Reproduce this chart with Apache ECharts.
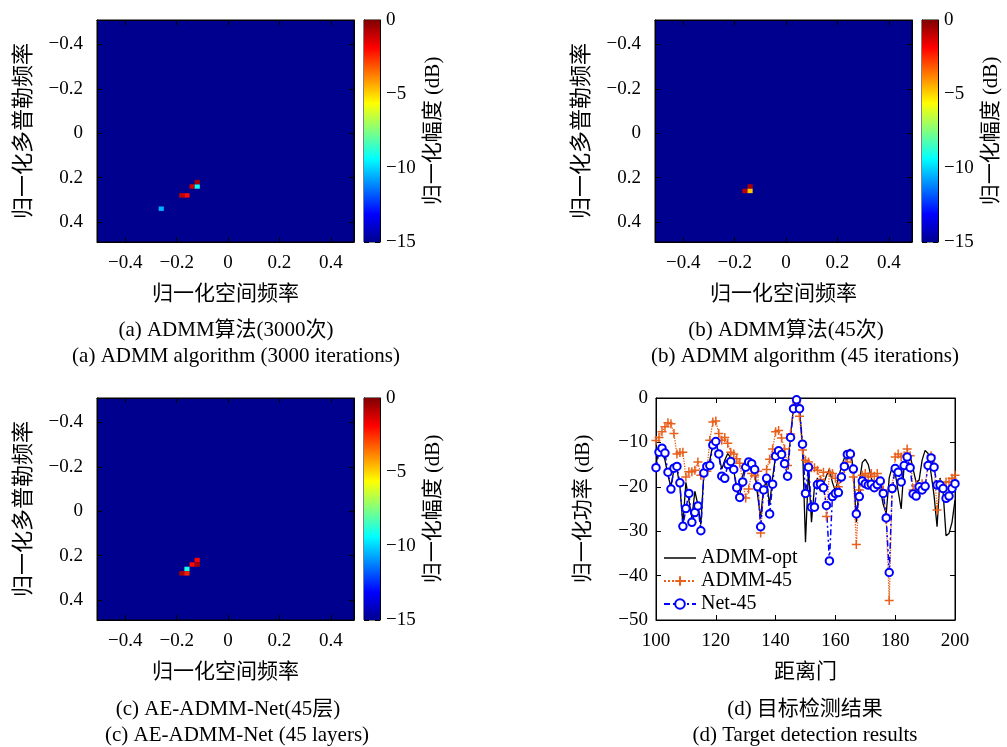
<!DOCTYPE html>
<html>
<head>
<meta charset="utf-8">
<script src="https://cdn.jsdelivr.net/npm/echarts@6/dist/echarts.min.js"></script>
<style>
  html, body { margin: 0; background: #fff; }
  #main { width: 1007px; height: 747px; }
</style>
</head>
<body>
<div id="main"></div>
<script>
// dati
var freqTicks = [-0.4, -0.2, 0, 0.2, 0.4];
var freqRange = [-0.51, 0.49];
var cellHalf = 0.01;
var dbRange = [-15, 0];

// celle non di fondo: [freq spaziale, freq doppler, dB]
var cellsA = [[-0.26, 0.34, -10.5], [-0.18, 0.28, -1.0], [-0.16, 0.28, -2.0],
              [-0.14, 0.24, -1.2], [-0.12, 0.24, -9.2], [-0.12, 0.22, -0.5]];
var cellsB = [[-0.14, 0.24, -0.7], [-0.16, 0.26, -0.9], [-0.14, 0.26, -4.8]];
var cellsC = [[-0.12, 0.22, -1.9], [-0.12, 0.24, -0.6], [-0.14, 0.24, -2.0],
              [-0.16, 0.26, -9.0], [-0.18, 0.28, -0.6], [-0.16, 0.28, -2.3]];

// pannello (d): gate 100..200
var gateStart = 100;
var admmOpt = [-15, -11.5, -12, -14, -17.5, -20, -16, -16, -20, -28.5,
  -19, -23, -27, -21, -24, -28.5, -17, -15.5, -14, -10.5,
  -9.5, -13, -16, -14, -12.5, -13.5, -16, -21, -22, -17.5,
  -15, -14.5, -15, -16.5, -22, -27, -20, -19, -24, -18,
  -13, -11.5, -12.5, -15, -16, -8.5, -2, -0.3, -2.5, -11,
  -32.5, -16, -28, -20, -18, -21, -19.5, -17.5, -16, -19,
  -21, -18, -15.5, -13.5, -12, -11.5, -16, -28, -19, -14.5,
  -13.8, -15, -18, -20, -19.5, -20.5, -24, -26, -18, -15.5,
  -17, -21, -25, -15, -13.5, -13, -16, -19, -18.5, -14,
  -11.8, -12.5, -17, -22, -29, -18, -21, -31, -30.5, -28, -23];
var admm45 = [-9.6, -8.9, -7.6, -6.5, -5.6, -5.8, -8, -12.6, -12.3, -12.2,
  -17.8, -16.6, -16.6, -16.3, -14.4, -17.4, -17.4, -16.5, -9.5, -5.4,
  -5.2, -8, -9.5, -8.9, -10.2, -12.2, -12.6, -13.7, -14.7, -19,
  -22.5, -20.5, -17, -17.5, -16.5, -30.4, -20.7, -16.1, -13.8, -11.5,
  -7.6, -7.3, -9, -11.5, -15.2, -8.1, -2.4, -1.1, -4.1, -11.7,
  -14, -14.4, -15.7, -15.7, -16.3, -18.4, -16.7, -26.7, -16.7, -17,
  -18.1, -20, -18, -15.9, -14.4, -13, -17.8, -33, -20.7, -17.4,
  -17, -17.8, -17, -17.6, -17, -19.1, -20.7, -27.4, -45.6, -20,
  -13.3, -12.6, -13.3, -13, -11.5, -13, -20.7, -19.6, -20, -19.3,
  -20, -14.8, -13, -15.2, -25.2, -19.3, -20, -18.9, -18.9, -18.1, -17.4];
var net45 = [-15.7, -12.2, -11.3, -12.4, -16.7, -20.5, -15.8, -15.4, -19.1, -28.9,
  -24.9, -21.5, -28, -25.8, -24.3, -29.9, -16.9, -15.4, -15.2, -10.6,
  -9.8, -12.6, -17.6, -18.1, -15, -14.3, -16.1, -20.2, -22.4, -18.9,
  -15.6, -14.4, -14.8, -16.1, -20, -29, -20.7, -18.1, -26.1, -19.4,
  -13.1, -11.9, -12.7, -14.8, -17.6, -8.9, -2.4, -0.4, -2.4, -10.4,
  -21.5, -15.6, -24.6, -24.6, -19.5, -19.4, -20.2, -24.2, -36.7, -22.2,
  -21.5, -21.3, -17.8, -15.4, -12.7, -12.6, -16, -26.1, -22.2, -18.7,
  -19.3, -19.6, -19.4, -20.2, -19.5, -18.7, -21.5, -27, -39.3, -20.4,
  -15.9, -16.7, -18.9, -15.2, -13.3, -15.7, -21.6, -22.1, -20, -20.7,
  -19.9, -15.2, -13.5, -15.6, -19.6, -19.6, -20.4, -22.6, -22.1, -20.4, -19.3];

var FONT = "'Liberation Serif', 'Noto Sans CJK SC', serif";
var jet = ['#00008f', '#0000ff', '#0080ff', '#00ffff', '#80ff80', '#ffff00', '#ff8000', '#ff0000', '#800000'];

function withPair(vals) {
  return vals.map(function (v, i) { return [gateStart + i, v]; });
}
function minusFmt(v) { return String(v).replace('-', '\u2212'); }

var grids = [], xAxes = [], yAxes = [], series = [], heatIdx = [];

function tick(custom) {
  var t = { show: true, inside: true, length: 5, lineStyle: { color: '#000' } };
  if (custom) t.customValues = custom;
  return t;
}
function lbl(show, margin, custom) {
  var l = { show: show, formatter: minusFmt, fontFamily: FONT, fontSize: 19, color: '#000', margin: margin };
  if (custom) l.customValues = custom;
  return l;
}
var nameStyle = { fontFamily: FONT, fontSize: 21, color: '#000' };
var axisLine = { show: true, onZero: false, lineStyle: { color: '#000', width: 1 } };

function renderCell(params, api) {
  var x = api.value(0), y = api.value(1);
  var a = api.coord([x - cellHalf, y - cellHalf]);
  var b = api.coord([x + cellHalf, y + cellHalf]);
  return {
    type: 'rect',
    shape: { x: Math.min(a[0], b[0]), y: Math.min(a[1], b[1]),
             width: Math.abs(b[0] - a[0]), height: Math.abs(b[1] - a[1]) },
    style: { fill: api.visual('color') }
  };
}

function heatPanel(left, top, cells, cbLeft) {
  var g = grids.length;
  grids.push({ left: left, top: top, width: 257, height: 222, show: true,
               backgroundColor: jet[0], borderColor: '#000', borderWidth: 1 });
  var xi = xAxes.length, yi = yAxes.length;
  xAxes.push({ type: 'value', gridIndex: g, position: 'bottom', min: freqRange[0], max: freqRange[1],
    name: '归一化空间频率', nameLocation: 'middle', nameGap: 42, nameTextStyle: nameStyle,
    axisLine: axisLine, axisTick: tick(freqTicks), axisLabel: lbl(true, 12, freqTicks), splitLine: { show: false } });
  xAxes.push({ type: 'value', gridIndex: g, position: 'top', min: freqRange[0], max: freqRange[1],
    axisLine: axisLine, axisTick: tick(freqTicks), axisLabel: lbl(false, 8, freqTicks), splitLine: { show: false } });
  yAxes.push({ type: 'value', gridIndex: g, position: 'left', inverse: true, min: freqRange[0], max: freqRange[1],
    name: '归一化多普勒频率', nameLocation: 'middle', nameGap: 62, nameRotate: 90,
    nameTextStyle: { fontFamily: FONT, fontSize: 22, color: '#000' },
    axisLine: axisLine, axisTick: tick(freqTicks), axisLabel: lbl(true, 14, freqTicks), splitLine: { show: false } });
  yAxes.push({ type: 'value', gridIndex: g, position: 'right', inverse: true, min: freqRange[0], max: freqRange[1],
    axisLine: axisLine, axisTick: tick(freqTicks), axisLabel: lbl(false, 8, freqTicks), splitLine: { show: false } });
  heatIdx.push(series.length);
  series.push({ type: 'custom', xAxisIndex: xi, yAxisIndex: yi, renderItem: renderCell,
                encode: { x: 0, y: 1 }, data: cells, silent: true });

  // barra dei colori
  var cg = grids.length;
  grids.push({ left: cbLeft, top: top, width: 16, height: 222, show: true,
               borderColor: '#000', borderWidth: 1 });
  var cxi = xAxes.length, cyi = yAxes.length;
  xAxes.push({ type: 'category', gridIndex: cg, data: ['cb'], show: false });
  yAxes.push({ type: 'value', gridIndex: cg, position: 'right', min: dbRange[0], max: dbRange[1], interval: 5,
    name: '归一化幅度 (dB)', nameLocation: 'middle', nameGap: 43, nameRotate: 90, nameTextStyle: nameStyle,
    axisLine: axisLine, axisTick: tick(), axisLabel: lbl(true, 6), splitLine: { show: false } });
  yAxes.push({ type: 'value', gridIndex: cg, position: 'left', min: dbRange[0], max: dbRange[1], interval: 5,
    axisLine: axisLine, axisTick: tick(), axisLabel: { show: false }, splitLine: { show: false } });
  var stops = jet.slice().reverse().map(function (c, i) { return { offset: i / (jet.length - 1), color: c }; });
  series.push({ type: 'bar', xAxisIndex: cxi, yAxisIndex: cyi, data: [dbRange[0]], barWidth: '100%',
    silent: true, itemStyle: { color: new echarts.graphic.LinearGradient(0, 0, 0, 1, stops) } });
}

heatPanel(97, 20, cellsA, 364);
heatPanel(655, 20, cellsB, 922);
heatPanel(97, 398, cellsC, 364);

// pannello (d)
var dg = grids.length;
grids.push({ left: 656, top: 398, width: 299, height: 222, show: true, borderColor: '#000', borderWidth: 1 });
var dxi = xAxes.length, dyi = yAxes.length;
xAxes.push({ type: 'value', gridIndex: dg, position: 'bottom', min: 100, max: 200, interval: 20,
  name: '距离门', nameLocation: 'middle', nameGap: 42, nameTextStyle: nameStyle,
  axisLine: axisLine, axisTick: tick(), axisLabel: lbl(true, 12), splitLine: { show: false } });
xAxes.push({ type: 'value', gridIndex: dg, position: 'top', min: 100, max: 200, interval: 20,
  axisLine: axisLine, axisTick: tick(), axisLabel: { show: false }, splitLine: { show: false } });
yAxes.push({ type: 'value', gridIndex: dg, position: 'left', min: -50, max: 0, interval: 10,
  name: '归一化功率 (dB)', nameLocation: 'middle', nameGap: 62, nameRotate: 90, nameTextStyle: nameStyle,
  axisLine: axisLine, axisTick: tick(), axisLabel: lbl(true, 8), splitLine: { show: false } });
yAxes.push({ type: 'value', gridIndex: dg, position: 'right', min: -50, max: 0, interval: 10,
  axisLine: axisLine, axisTick: tick(), axisLabel: { show: false }, splitLine: { show: false } });

series.push({ name: 'ADMM-opt', type: 'line', xAxisIndex: dxi, yAxisIndex: dyi, data: withPair(admmOpt),
  symbol: 'none', lineStyle: { color: '#000', width: 1.3 }, itemStyle: { color: '#000' } });
series.push({ name: 'ADMM-45', type: 'line', xAxisIndex: dxi, yAxisIndex: dyi, data: withPair(admm45),
  symbol: 'path://M5 0 L5 10 M0 5 L10 5', symbolSize: 9, showAllSymbol: true,
  lineStyle: { color: '#e8601c', width: 1.3, type: 'dotted' },
  itemStyle: { color: '#e8601c', borderColor: '#e8601c', borderWidth: 1.5 } });
series.push({ name: 'Net-45', type: 'line', xAxisIndex: dxi, yAxisIndex: dyi, data: withPair(net45),
  symbol: 'emptyCircle', symbolSize: 7.5, showAllSymbol: true,
  lineStyle: { color: '#0000ff', width: 1.5, type: [6, 3, 2, 3] },
  itemStyle: { color: '#0000ff', borderWidth: 1.4 } });

var captions = [
  ['(a) ADMM算法(3000次)', 226, 330], ['(a) ADMM algorithm (3000 iterations)', 236, 356],
  ['(b) ADMM算法(45次)', 786, 330], ['(b) ADMM algorithm (45 iterations)', 805, 356],
  ['(c) AE-ADMM-Net(45层)', 228, 709], ['(c) AE-ADMM-Net (45 layers)', 237, 735],
  ['(d) 目标检测结果', 805, 709], ['(d) Target detection results', 805, 735]
];

var chart = echarts.init(document.getElementById('main'));
chart.setOption({
  animation: false,
  backgroundColor: '#fff',
  grid: grids,
  xAxis: xAxes,
  yAxis: yAxes,
  visualMap: { type: 'continuous', show: false, min: dbRange[0], max: dbRange[1], dimension: 2,
               seriesIndex: heatIdx, inRange: { color: jet } },
  legend: { data: [{ name: 'ADMM-opt', icon: 'path://M0 0 H30 V1.4 H0 Z' }, 'ADMM-45', 'Net-45'],
            orient: 'vertical', left: 663, top: 548,
            itemWidth: 32, itemHeight: 12, itemGap: 3, padding: 0,
            textStyle: { fontFamily: FONT, fontSize: 20, color: '#000' } },
  graphic: captions.map(function (c) {
    return { type: 'text', x: c[1], y: c[2], style: { text: c[0], fontFamily: FONT, fontSize: 21,
             fill: '#000', align: 'center', verticalAlign: 'middle' } };
  }),
  series: series
});
</script>
</body>
</html>
